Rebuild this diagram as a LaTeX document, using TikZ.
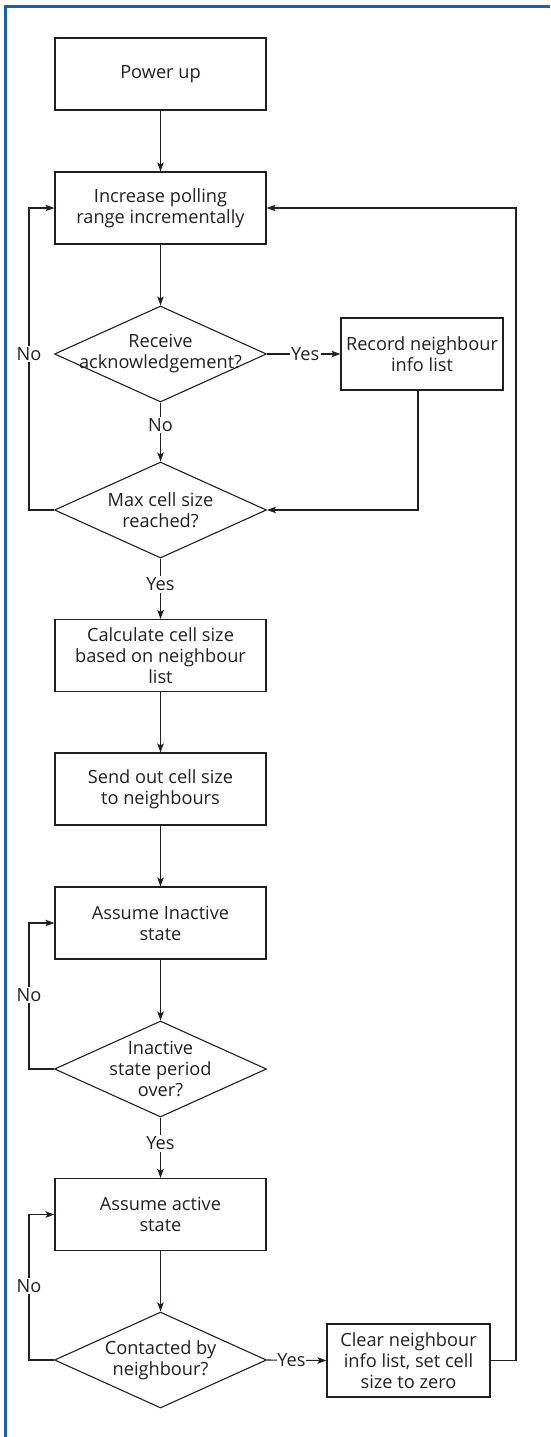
\documentclass[tikz,border=0pt]{standalone}
\usepackage{fontspec}
\setmainfont{Open Sans}
\usetikzlibrary{shapes.geometric,arrows.meta}
\definecolor{framblue}{RGB}{31,95,168}
\definecolor{ink}{RGB}{35,31,32}
\begin{document}
\begin{tikzpicture}[x=1pt,y=-1pt,
  stepbox/.style={draw=ink, line width=1.1pt, rectangle, minimum width=211pt, minimum height=72pt, inner sep=0pt},
  sidebox/.style={draw=ink, line width=1.1pt, rectangle, minimum height=72pt, inner sep=0pt},
  dia/.style={draw=ink, line width=1.1pt, diamond, minimum width=212pt, minimum height=96pt, inner sep=0pt},
  txt/.style={align=center, text=ink, font=\fontsize{18.2}{21}\selectfont, inner sep=0pt},
  lbl/.style={fill=white, text=ink, font=\fontsize{18.2}{21}\selectfont, inner sep=1.5pt},
  arr/.style={draw=ink, line width=1.1pt, -{Stealth[length=9pt,width=6.5pt,inset=2pt]}},
  ln/.style={draw=ink, line width=1.1pt}
]
\useasboundingbox (0,0) rectangle (550,1437);
\draw[framblue, line width=3pt] (5.5,1437) -- (5.5,6.5) -- (550,6.5);

% main column
\node[stepbox] (pow) at (160.5,74) {};
\node[txt] (powt) at (pow) {Power up};
\node[stepbox] (inc) at (160.5,208) {};
\node[txt] (inct) at (inc) {Increase polling\\range incrementally};
\node[dia] (d1) at (160.5,354) {};
\node[txt] (d1t) at (d1) {Receive\\acknowledgement?};
\node[sidebox, minimum width=162pt] (rec) at (422,354) {};
\node[txt] (rect) at (rec) {Record neighbour\\info list};
\node[dia] (d2) at (160.5,510) {};
\node[txt] (d2t) at (d2) {Max cell size\\reached?};
\node[stepbox] (calc) at (160.5,655.5) {};
\node[txt] (calct) at (calc) {Calculate cell size\\based on neighbour\\list};
\node[stepbox] (send) at (160.5,789) {};
\node[txt] (sendt) at (send) {Send out cell size\\to neighbours};
\node[stepbox] (inact) at (160.5,923) {};
\node[txt] (inactt) at (inact) {Assume Inactive\\state};
\node[dia] (d3) at (160.5,1069) {};
\node[txt] (d3t) at (d3) {Inactive\\state period\\over?};
\node[stepbox] (act) at (160.5,1214.5) {};
\node[txt] (actt) at (act) {Assume active\\state};
\node[dia] (d4) at (160.5,1360) {};
\node[txt] (d4t) at (d4) {Contacted by\\neighbour?};
\node[sidebox, minimum width=163pt, minimum height=73pt] (clr) at (408.5,1360.5) {};
\node[txt] (clrt) at (clr) {Clear neighbour\\info list, set cell\\size to zero};

% straight connectors
\draw[arr] (pow) -- (inc);
\draw[arr] (inc) -- (d1);
\draw[arr] (d1) -- node[lbl, pos=0.38] (no2) {No} (d2);
\draw[arr] (d1.east) -- node[lbl, pos=0.52] (yes1) {Yes} (rec.west);
\draw[arr] ([xshift=-4pt]rec.south) |- (d2.east);
\draw[arr] (d2) -- node[lbl, pos=0.43] (yes2) {Yes} (calc);
\draw[arr] (calc) -- (send);
\draw[arr] (send) -- (inact);
\draw[arr] (inact) -- (d3);
\draw[arr] (d3) -- node[lbl, pos=0.43] (yes3) {Yes} (act);
\draw[arr] (act) -- (d4);
\draw[arr] (d4.east) -- node[lbl, pos=0.41, inner xsep=0.5pt] (yes4) {Yes} (clr.west);

% loops
\coordinate (lx) at (29,0);
\coordinate (rx) at (516,0);
\draw[arr] (d2.west) -- (d2.west -| lx) |- (inc.west);
\node[lbl] (no1) at (29,354) {No};
\draw[arr] (d3.west) -- (d3.west -| lx) |- (inact.west);
\node[lbl] (no3) at (29,995) {No};
\draw[arr] (d4.west) -- (d4.west -| lx) |- (act.west);
\node[lbl] (no4) at (29,1286) {No};
\draw[arr] (clr.east) -- (clr.east -| rx) |- (inc.east);
\end{tikzpicture}
\end{document}
